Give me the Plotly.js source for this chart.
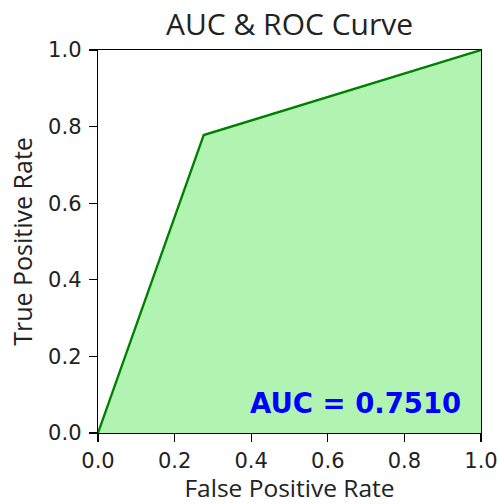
<!DOCTYPE html>
<html>
<head>
<meta charset="utf-8">
<script src="https://cdn.plot.ly/plotly-3.0.1.min.js"></script>
<style>html,body{margin:0;padding:0;background:#fff;}#chart{width:498px;height:504px;}</style>
</head>
<body>
<div id="chart"></div>
<script>
const fpr = [0.0, 0.276, 1.0];
const tpr = [0.0, 0.778, 1.0];
const aucLabel = "AUC = 0.7510";
const tickVals = [0, 0.2, 0.4, 0.6, 0.8, 1.0];
const tickText = ["0.0", "0.2", "0.4", "0.6", "0.8", "1.0"];

const tickFont = "DejaVu Sans, sans-serif";
const titleFont = "Open Sans, Noto Sans, sans-serif";
const trace = {
  x: fpr, y: tpr, type: "scatter", mode: "lines",
  line: {color: "#008000", width: 2.3},
  fill: "tozeroy", fillcolor: "rgba(144,238,144,0.7)",
  hoverinfo: "skip"
};
const axisCommon = {
  range: [0, 1], tickvals: tickVals, ticktext: tickText,
  showgrid: false, zeroline: false, showline: true, mirror: true,
  linecolor: "#000", linewidth: 1.3, ticks: "outside", ticklen: 8, tickwidth: 1.3,
  tickcolor: "#000", tickfont: {family: tickFont, size: 21, color: "#222"}
};
const layout = {
  width: 498, height: 504,
  margin: {l: 98, r: 17, t: 50, b: 71},
  paper_bgcolor: "#fff", plot_bgcolor: "#fff",
  showlegend: false,
  title: {text: "AUC & ROC Curve", font: {family: titleFont, size: 30, color: "#222"},
          xref: "paper", x: 0.5, xanchor: "center", yref: "container", y: 0.951, yanchor: "middle"},
  xaxis: Object.assign({}, axisCommon, {ticklabelstandoff: 0,
    title: {text: "False Positive Rate", font: {family: titleFont, size: 24.5, color: "#222"}, standoff: 6}}),
  yaxis: Object.assign({}, axisCommon, {ticklabelstandoff: 3,
    title: {text: "True Positive Rate", font: {family: titleFont, size: 25, color: "#222"}, standoff: 8}}),
  annotations: [{
    x: 0.952, y: 0.078, xref: "x", yref: "y", xanchor: "right", yanchor: "middle",
    text: "<b>" + aucLabel + "</b>", showarrow: false,
    font: {family: tickFont, size: 27.5, color: "#0000ff"}
  }]
};
Plotly.newPlot("chart", [trace], layout, {displayModeBar: false, staticPlot: true});
</script>
</body>
</html>
